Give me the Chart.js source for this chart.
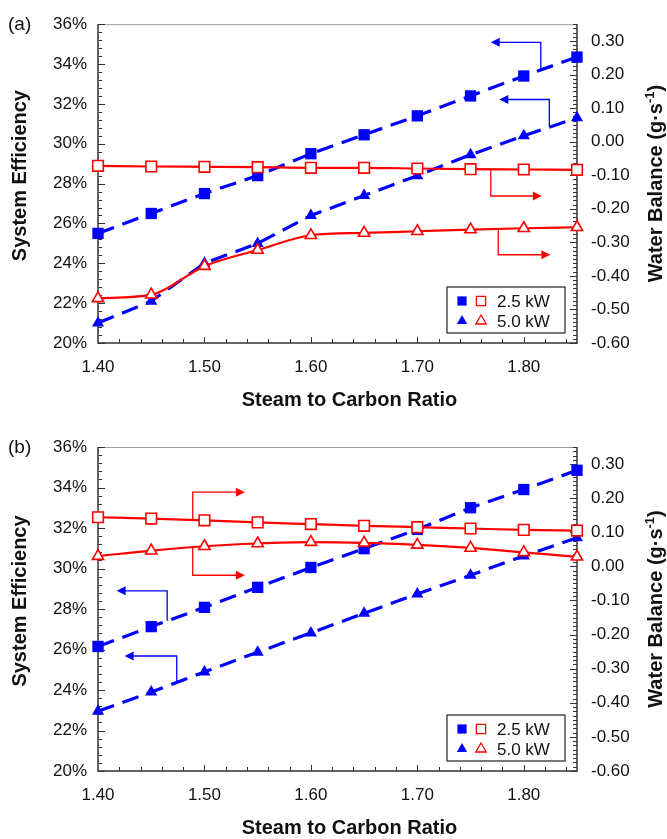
<!DOCTYPE html>
<html>
<head>
<meta charset="utf-8">
<title>System efficiency and water balance vs steam to carbon ratio</title>
<script src="https://cdn.jsdelivr.net/npm/chart.js@4.4.1/dist/chart.umd.min.js"></script>
<style>
  html, body { margin: 0; padding: 0; background: #fff; }
  .panel { position: relative; width: 667px; }
  canvas { display: block; }
</style>
</head>
<body>
<div class="panel"><canvas id="chartA" width="667" height="420"></canvas></div>
<div class="panel"><canvas id="chartB" width="667" height="419"></canvas></div>
<script>
// ——— Shared axes ———
var xs = [1.40, 1.45, 1.50, 1.55, 1.60, 1.65, 1.70, 1.75, 1.80, 1.85];
var xTicks = [1.40, 1.50, 1.60, 1.70, 1.80];
var effTicks = [20, 22, 24, 26, 28, 30, 32, 34, 36];
var wbTicks = [-0.60, -0.50, -0.40, -0.30, -0.20, -0.10, 0.00, 0.10, 0.20, 0.30];

// ——— Panel (a) ———
var effA25 = [25.5, 26.5, 27.5, 28.4, 29.5, 30.45, 31.4, 32.4, 33.4, 34.35];
var effA50 = [21.0, 22.1, 24.0, 25.0, 26.4, 27.4, 28.4, 29.45, 30.4, 31.3];
var wbA25 = [-0.072, -0.074, -0.075, -0.076, -0.078, -0.078, -0.080, -0.082, -0.083, -0.084];
var wbA50 = [-0.467, -0.456, -0.371, -0.323, -0.279, -0.272, -0.267, -0.262, -0.258, -0.255];

// ——— Panel (b) ———
var effB25 = [26.15, 27.13, 28.08, 29.07, 30.05, 30.98, 31.93, 33.0, 33.9, 34.85];
var effB50 = [22.95, 23.9, 24.89, 25.87, 26.82, 27.79, 28.74, 29.67, 30.62, 31.52];
var wbB25 = [0.144, 0.140, 0.135, 0.129, 0.124, 0.119, 0.115, 0.111, 0.107, 0.105];
var wbB50 = [0.030, 0.046, 0.059, 0.067, 0.071, 0.069, 0.063, 0.054, 0.041, 0.028];

// bracket arrows, in data units: [x, value] on the axis they point to
var arrowsA = [
  { axis: "y", color: "#0000ff", pts: [[1.816, 33.7], [1.816, 35.09], [1.769, 35.09]] },
  { axis: "y", color: "#0000ff", pts: [[1.824, 30.85], [1.824, 32.22], [1.777, 32.22]] },
  { axis: "y2", color: "#ff0000", pts: [[1.769, -0.082], [1.769, -0.162], [1.817, -0.162]] },
  { axis: "y2", color: "#ff0000", pts: [[1.776, -0.260], [1.776, -0.337], [1.825, -0.337]] }
];
var arrowsB = [
  { axis: "y2", color: "#ff0000", pts: [[1.489, 0.135], [1.489, 0.2175], [1.538, 0.2175]] },
  { axis: "y2", color: "#ff0000", pts: [[1.489, 0.058], [1.489, -0.026], [1.538, -0.026]] },
  { axis: "y", color: "#0000ff", pts: [[1.465, 27.42], [1.465, 28.9], [1.4175, 28.9]] },
  { axis: "y", color: "#0000ff", pts: [[1.474, 24.37], [1.474, 25.68], [1.425, 25.68]] }
];

var legendRows = [
  { label: "2.5 kW", style: "rect" },
  { label: "5.0 kW", style: "triangle" }
];

var BLUE = "#0000ff";
var RED = "#ff0000";
var FONT = "'Liberation Sans', Arial, sans-serif";

Chart.defaults.font.family = FONT;
Chart.defaults.color = "#111";

function pts(values) {
  return xs.map(function (x, i) { return { x: x, y: values[i] }; });
}

function near(list, v) {
  for (var i = 0; i < list.length; i++) if (Math.abs(list[i] - v) < 1e-6) return true;
  return false;
}

// ——— Frame, inward ticks, arrows (under the data); titles and legend (on top) ———
var decorPlugin = {
  id: "decor",
  beforeDatasetsDraw: function (chart, args, o) {
    var ctx = chart.ctx, a = chart.chartArea;
    var sx = chart.scales.x, sy = chart.scales.y, sy2 = chart.scales.y2;
    var i, v, p, len;
    ctx.save();
    ctx.strokeStyle = "#9a9a9a";
    ctx.lineWidth = 1;
    ctx.beginPath();
    ctx.moveTo(a.left, a.top + 0.5);
    ctx.lineTo(a.right, a.top + 0.5);
    ctx.stroke();

    ctx.strokeStyle = "#333";
    ctx.lineWidth = 1.5;
    ctx.beginPath();
    ctx.moveTo(a.left, a.top);
    ctx.lineTo(a.left, a.bottom);
    ctx.lineTo(a.right, a.bottom);
    ctx.lineTo(a.right, a.top);
    ctx.stroke();

    ctx.lineWidth = 1;
    ctx.beginPath();
    for (i = 1; i <= 22; i++) {
      v = 1.40 + i * 0.02;
      p = Math.round(sx.getPixelForValue(v)) + 0.5;
      len = near(xTicks, v) ? 6 : 4;
      ctx.moveTo(p, a.bottom);
      ctx.lineTo(p, a.bottom - len);
    }
    for (i = 0; i <= 40; i++) {
      v = 20 + i * 0.4;
      p = Math.round(sy.getPixelForValue(v)) + 0.5;
      len = near(effTicks, v) ? 7 : 4;
      ctx.moveTo(a.left, p);
      ctx.lineTo(a.left + len, p);
    }
    for (i = 0; i <= 76; i++) {
      v = -0.6 + i * 0.0125;
      p = Math.round(sy2.getPixelForValue(v)) + 0.5;
      len = near(wbTicks, v) ? 7 : 4;
      ctx.moveTo(a.right, p);
      ctx.lineTo(a.right - len, p);
    }
    ctx.stroke();

    (o.arrows || []).forEach(function (arr) {
      var sc = chart.scales[arr.axis];
      var xy = arr.pts.map(function (q) { return [sx.getPixelForValue(q[0]), sc.getPixelForValue(q[1])]; });
      ctx.strokeStyle = arr.color;
      ctx.fillStyle = arr.color;
      ctx.lineWidth = 1.3;
      var last = xy[xy.length - 1], prev = xy[xy.length - 2];
      var ang = Math.atan2(last[1] - prev[1], last[0] - prev[0]);
      var head = 9;
      ctx.beginPath();
      ctx.moveTo(xy[0][0], xy[0][1]);
      for (var k = 1; k < xy.length - 1; k++) ctx.lineTo(xy[k][0], xy[k][1]);
      ctx.lineTo(last[0] - Math.cos(ang) * (head - 1), last[1] - Math.sin(ang) * (head - 1));
      ctx.stroke();
      ctx.beginPath();
      ctx.moveTo(last[0], last[1]);
      ctx.lineTo(last[0] - Math.cos(ang) * head - Math.sin(ang) * 4.5, last[1] - Math.sin(ang) * head + Math.cos(ang) * 4.5);
      ctx.lineTo(last[0] - Math.cos(ang) * head + Math.sin(ang) * 4.5, last[1] - Math.sin(ang) * head - Math.cos(ang) * 4.5);
      ctx.closePath();
      ctx.fill();
    });
    ctx.restore();
  },
  afterDraw: function (chart, args, o) {
    var ctx = chart.ctx, a = chart.chartArea;
    var midY = (a.top + a.bottom) / 2;
    ctx.save();
    ctx.fillStyle = "#111";

    // panel label
    ctx.font = "19px " + FONT;
    ctx.textAlign = "left";
    ctx.textBaseline = "middle";
    ctx.fillText(o.label, 8, a.top + 1);

    // x title
    ctx.font = "bold 20px " + FONT;
    ctx.textAlign = "center";
    ctx.fillText("Steam to Carbon Ratio", (a.left + a.right) / 2 + 12, a.bottom + 57);

    // left title
    ctx.save();
    ctx.translate(20, midY - 8);
    ctx.rotate(-Math.PI / 2);
    ctx.fillText("System Efficiency", 0, 0);
    ctx.restore();

    // right title with superscript
    ctx.save();
    ctx.translate(656, midY);
    ctx.rotate(-Math.PI / 2);
    var main = "Water Balance (g\u00b7s", sup = "-1", tail = ")";
    ctx.font = "bold 20px " + FONT;
    var w1 = ctx.measureText(main).width, w3 = ctx.measureText(tail).width;
    ctx.font = "bold 13px " + FONT;
    var w2 = ctx.measureText(sup).width;
    var x0 = -(w1 + w2 + w3) / 2;
    ctx.textAlign = "left";
    ctx.font = "bold 20px " + FONT;
    ctx.fillText(main, x0, 0);
    ctx.fillText(tail, x0 + w1 + w2, 0);
    ctx.font = "bold 13px " + FONT;
    ctx.fillText(sup, x0 + w1, -6);
    ctx.restore();

    // legend
    var bw = 118, bh = 46;
    var bx = a.right - 12 - bw, by = a.bottom - 10 - bh;
    ctx.fillStyle = "#fff";
    ctx.fillRect(bx, by, bw, bh);
    ctx.strokeStyle = "#333";
    ctx.lineWidth = 1.3;
    ctx.strokeRect(bx, by, bw, bh);
    legendRows.forEach(function (row, i) {
      var ry = by + 14 + i * 20;
      var r = row.style === "rect" ? 6.5 : 6;
      ctx.fillStyle = BLUE;
      ctx.strokeStyle = BLUE;
      Chart.helpers.drawPoint(ctx, { pointStyle: row.style, radius: r, rotation: 0, borderWidth: 0 }, bx + 15, ry);
      ctx.fillStyle = "#fff";
      ctx.strokeStyle = RED;
      Chart.helpers.drawPoint(ctx, { pointStyle: row.style, radius: r, rotation: 0, borderWidth: 1.5 }, bx + 34, ry);
      ctx.fillStyle = "#111";
      ctx.font = "17px " + FONT;
      ctx.textAlign = "left";
      ctx.textBaseline = "middle";
      ctx.fillText(row.label, bx + 50, ry + 1);
    });
    ctx.restore();
  }
};

function makeChart(id, cfg) {
  var datasets = [
    { label: "2.5 kW water balance", data: pts(cfg.wb25), yAxisID: "y2",
      borderColor: RED, borderWidth: 2.2, cubicInterpolationMode: "monotone",
      pointStyle: "rect", pointRadius: 7.5, pointBackgroundColor: "#fff", pointBorderColor: RED, pointBorderWidth: 1.6 },
    { label: "5.0 kW water balance", data: pts(cfg.wb50), yAxisID: "y2",
      borderColor: RED, borderWidth: 2.2, cubicInterpolationMode: "monotone",
      pointStyle: "triangle", pointRadius: 6.5, pointBackgroundColor: "#fff", pointBorderColor: RED, pointBorderWidth: 1.6 },
    { label: "2.5 kW efficiency", data: pts(cfg.eff25), yAxisID: "y",
      borderColor: BLUE, borderWidth: 3.2, borderDash: [17, 9], tension: 0,
      pointStyle: "rect", pointRadius: 8, pointBackgroundColor: BLUE, pointBorderColor: BLUE, pointBorderWidth: 0 },
    { label: "5.0 kW efficiency", data: pts(cfg.eff50), yAxisID: "y",
      borderColor: BLUE, borderWidth: 3.2, borderDash: [17, 9], tension: 0,
      pointStyle: "triangle", pointRadius: 7, pointBackgroundColor: BLUE, pointBorderColor: BLUE, pointBorderWidth: 0 }
  ];
  datasets.forEach(function (d) { d.clip = false; d.pointHoverRadius = d.pointRadius; d.fill = false; });

  var noGrid = { display: false, drawTicks: false, tickLength: 0 };
  return new Chart(document.getElementById(id), {
    type: "line",
    data: { datasets: datasets },
    plugins: [decorPlugin],
    options: {
      responsive: false,
      animation: false,
      events: [],
      layout: { padding: { top: cfg.top, left: 0, right: 0, bottom: 0 } },
      scales: {
        x: {
          type: "linear", min: 1.40, max: 1.85,
          grid: noGrid, border: { display: false },
          afterBuildTicks: function (s) { s.ticks = xTicks.map(function (v) { return { value: v }; }); },
          afterFit: function (s) { s.height = cfg.xAxisHeight; },
          ticks: { font: { size: 17 }, color: "#111", padding: 14, maxRotation: 0,
            callback: function (v) { return Number(v).toFixed(2); } }
        },
        y: {
          type: "linear", position: "left", min: 20, max: 36,
          grid: noGrid, border: { display: false },
          afterBuildTicks: function (s) { s.ticks = effTicks.map(function (v) { return { value: v }; }); },
          afterFit: function (s) { s.width = 98; },
          ticks: { font: { size: 17 }, color: "#111", padding: 11,
            callback: function (v) { return v + "%"; } }
        },
        y2: {
          type: "linear", position: "right", min: -0.6, max: 0.35,
          grid: noGrid, border: { display: false },
          afterBuildTicks: function (s) { s.ticks = wbTicks.map(function (v) { return { value: v }; }); },
          afterFit: function (s) { s.width = 90; },
          ticks: { font: { size: 17 }, color: "#111", padding: 14,
            callback: function (v) { return Number(v).toFixed(2); } }
        }
      },
      plugins: {
        legend: { display: false },
        tooltip: { enabled: false },
        decor: { label: cfg.label, arrows: cfg.arrows }
      }
    }
  });
}

makeChart("chartA", { label: "(a)", top: 18, xAxisHeight: 77, arrows: arrowsA,
  eff25: effA25, eff50: effA50, wb25: wbA25, wb50: wbA50 });
makeChart("chartB", { label: "(b)", top: 27, xAxisHeight: 68, arrows: arrowsB,
  eff25: effB25, eff50: effB50, wb25: wbB25, wb50: wbB50 });
</script>
</body>
</html>
